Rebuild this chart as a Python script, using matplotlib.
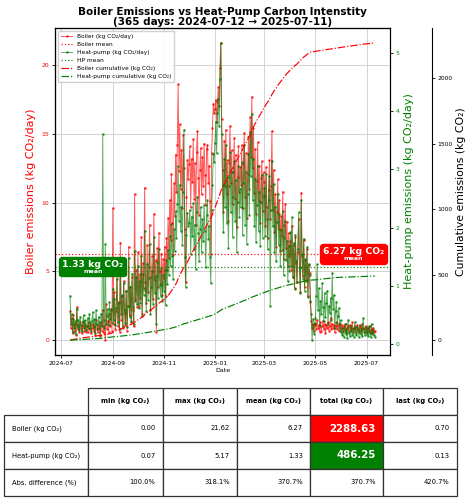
import numpy as np
import pandas as pd
import matplotlib
matplotlib.use('Agg')
import matplotlib.pyplot as plt
import matplotlib.dates as mdates
import matplotlib.transforms as mtransforms
from matplotlib.offsetbox import TextArea, VPacker, AnnotationBbox

start_date = '2024-07-12'
end_date = '2025-07-11'

# daily boiler emissions (kg CO2/day)
boiler = [
    # Jul 12-31
    2.1, 0.9, 1.6, 0.5, 1.8, 0.7, 1.2, 0.4, 2.4, 0.8, 1.1, 0.6, 1.3, 0.9, 0.5, 1.0, 1.4, 0.7, 1.2, 0.6,
    # Aug
    1.0, 0.6, 1.3, 0.8, 1.1, 0.5, 0.9, 1.2, 0.7, 1.0, 0.4, 1.5, 0.8, 0.6, 1.1, 0.9, 0.3, 1.3, 0.7, 2.2,
    0.5, 1.0, 0.0, 2.6, 0.8, 1.4, 0.6, 1.9, 1.0, 2.3, 0.7,
    # Sep
    9.6, 1.2, 3.5, 0.8, 2.1, 5.2, 1.0, 2.8, 0.6, 7.1, 1.5, 3.2, 0.9, 4.3, 2.0, 1.1, 3.6, 0.7, 2.5, 6.8,
    1.8, 3.9, 1.3, 4.6, 2.2, 1.0, 10.6, 3.0, 5.1, 2.4,
    # Oct
    6.4, 2.5, 4.8, 3.1, 7.5, 1.9, 5.6, 3.8, 11.1, 4.2, 2.7, 6.9, 3.5, 5.3, 8.4, 2.2, 4.6, 6.1, 3.0, 9.2,
    4.4, 5.8, 0.6, 6.7, 3.9, 7.8, 5.0, 4.1, 6.3, 3.3, 5.9,
    # Nov
    4.5, 6.8, 3.2, 7.4, 5.1, 8.9, 6.0, 10.2, 7.3, 12.1, 8.5, 6.2, 11.4, 9.0, 13.5, 10.8, 14.2, 18.6, 12.3, 15.7,
    11.0, 13.8, 9.6, 14.9, 12.5, 8.1, 4.2, 10.4, 13.1, 11.7,
    # Dec
    12.8, 14.1, 9.7, 13.2, 11.5, 14.6, 10.3, 12.9, 8.4, 13.7, 15.2, 11.8, 9.1, 12.4, 14.0, 10.6, 13.3, 11.2, 14.3, 12.0,
    9.8, 13.9, 14.2, 11.4, 12.7, 10.1, 6.3, 13.6, 15.4, 17.2, 16.5,
    # Jan
    16.8, 17.5, 15.9, 17.3, 18.4, 17.0, 19.8, 21.62, 16.1, 12.4, 9.3, 14.5, 11.2, 15.3, 10.6, 13.1, 8.7, 12.9, 15.6, 11.4,
    13.8, 9.9, 12.2, 14.7, 10.3, 13.5, 8.2, 11.9, 14.1, 10.8, 12.6,
    # Feb
    11.3, 14.2, 9.6, 12.8, 15.1, 10.4, 13.6, 8.9, 12.1, 14.8, 11.0, 16.2, 13.3, 17.7, 12.5, 15.4, 10.7, 13.9, 9.2, 11.6,
    14.4, 10.1, 12.7, 8.5, 11.8, 13.0, 9.4, 12.2,
    # Mar
    11.5, 8.3, 12.6, 9.7, 7.4, 10.9, 13.1, 8.8, 11.2, 15.2, 9.5, 12.4, 7.9, 10.6, 6.8, 9.3, 11.7, 8.1, 10.2, 6.5,
    9.0, 7.6, 10.8, 5.9, 8.4, 9.9, 6.7, 8.6, 5.4, 7.8, 6.1,
    # Apr
    7.2, 5.1, 8.3, 4.6, 6.9, 3.8, 7.5, 5.6, 4.2, 6.4, 8.8, 5.3, 3.5, 10.7, 6.1, 4.7, 7.3, 3.9, 5.8, 4.4,
    6.6, 3.2, 5.5, 4.9, 2.8, 1.4, 0.9, 1.2, 0.7, 1.1,
    # May
    1.2, 0.8, 1.5, 0.9, 1.1, 0.6, 1.3, 0.7, 1.0, 1.4, 0.8, 1.2, 0.5, 1.1, 0.9, 1.3, 0.7, 1.0, 1.6, 0.8,
    1.2, 0.9, 1.1, 0.6, 1.0, 1.3, 0.8, 1.1, 0.7, 1.2, 0.9,
    # Jun
    0.9, 1.1, 0.7, 1.0, 0.8, 1.2, 0.6, 0.9, 1.0, 0.7, 1.1, 0.8, 0.9, 1.3, 0.6, 0.8, 1.0, 0.7, 0.9, 1.1,
    0.8, 0.6, 1.0, 0.9, 0.7, 1.2, 0.8, 0.9, 0.6, 1.0,
    # Jul 1-11
    0.8, 0.6, 0.9, 0.7, 1.0, 0.6, 0.8, 0.5, 0.9, 0.6, 0.70,
]

# daily heat-pump emissions (kg CO2/day)
heatpump = [
    # Jul 12-31
    0.83, 0.35, 0.52, 0.21, 0.44, 0.28, 0.39, 0.18, 0.61, 0.30, 0.42, 0.25, 0.47, 0.33, 0.22, 0.38, 0.50, 0.27, 0.41, 0.24,
    # Aug
    0.32, 0.45, 0.27, 0.51, 0.36, 0.22, 0.40, 0.55, 0.30, 0.43, 0.19, 0.58, 0.34, 0.26, 0.47, 0.38, 0.15, 0.52, 0.31, 3.60,
    0.42, 0.28, 1.72, 0.35, 0.49, 0.61, 0.33, 0.72, 0.44, 0.58, 0.37,
    # Sep
    0.95, 0.41, 0.78, 0.33, 0.62, 1.12, 0.38, 0.70, 0.26, 1.35, 0.52, 0.84, 0.31, 1.05, 0.58, 0.36, 0.92, 0.29, 0.66, 1.48,
    0.47, 0.99, 0.40, 1.21, 0.63, 0.35, 1.60, 0.74, 1.15, 0.69,
    # Oct
    1.35, 0.62, 1.08, 0.71, 1.52, 0.48, 1.21, 0.85, 1.95, 0.93, 0.57, 1.38, 0.76, 1.14, 1.72, 0.52, 0.98, 1.26, 0.69, 1.84,
    0.88, 1.17, 0.35, 1.41, 0.79, 1.63, 1.02, 0.83, 1.31, 0.74, 1.19,
    # Nov
    0.92, 1.28, 0.67, 1.45, 1.03, 1.62, 1.18, 1.85, 1.34, 2.06, 1.51, 1.12, 1.97, 1.60, 2.28, 1.83, 2.41, 3.05, 2.12, 2.74,
    1.95, 2.36, 1.71, 2.62, 3.68, 1.49, 0.98, 1.87, 2.25, 2.03,
    # Dec
    2.08, 2.31, 1.54, 2.19, 1.86, 2.42, 1.63, 2.05, 1.29, 2.27, 2.53, 1.91, 1.42, 1.98, 2.36, 1.58, 2.14, 1.77, 2.39, 1.95,
    1.33, 2.22, 2.47, 1.81, 2.03, 1.49, 1.05, 2.31, 2.74, 3.26, 3.12,
    # Jan
    3.45, 3.82, 3.28, 3.96, 4.21, 3.74, 4.55, 5.17, 3.61, 2.74, 1.92, 3.18, 2.35, 3.42, 2.08, 2.87, 1.65, 2.71, 3.29, 2.26,
    2.95, 1.84, 2.53, 3.14, 2.12, 2.82, 1.58, 2.44, 3.05, 2.19, 2.67,
    # Feb
    2.35, 3.12, 1.88, 2.76, 3.41, 2.04, 2.95, 1.72, 2.58, 3.27, 2.21, 3.64, 2.89, 3.95, 2.47, 3.18, 2.02, 2.83, 1.76, 2.39,
    3.06, 1.95, 2.62, 1.68, 2.44, 2.91, 1.83, 2.55,
    # Mar
    2.68, 1.85, 2.92, 2.14, 1.63, 2.47, 2.88, 0.66, 2.31, 3.15, 2.02, 2.75, 1.58, 2.36, 1.42, 2.09, 2.58, 1.71, 2.24, 1.35,
    1.96, 1.62, 2.28, 1.19, 1.83, 2.12, 1.44, 1.77, 1.08, 1.69, 1.26,
    # Apr
    1.92, 1.35, 2.18, 1.16, 1.74, 0.95, 1.88, 1.42, 1.07, 1.63, 2.26, 1.31, 0.88, 2.47, 1.55, 1.12, 1.81, 0.92, 1.46, 1.09,
    1.67, 0.81, 1.38, 1.19, 0.74, 0.52, 0.07, 0.43, 0.18, 0.36,
    # May
    0.45, 0.82, 1.37, 0.58, 0.96, 0.31, 0.74, 0.52, 1.05, 0.63, 0.39, 0.88, 0.47, 0.71, 0.92, 0.35, 0.66, 0.54, 0.79, 0.42,
    1.22, 0.61, 0.84, 0.28, 0.57, 0.73, 0.36, 0.49, 0.62, 0.25, 0.41,
    # Jun
    0.21, 0.15, 0.28, 0.12, 0.34, 0.18, 0.25, 0.11, 0.42, 0.19, 0.14, 0.31, 0.22, 0.16, 0.27, 0.13, 0.38, 0.20, 0.15, 0.29,
    0.24, 0.12, 0.33, 0.17, 0.26, 0.14, 0.45, 0.21, 0.16, 0.30,
    # Jul 1-11
    0.18, 0.26, 0.14, 0.31, 0.20, 0.12, 0.35, 0.17, 0.24, 0.15, 0.13,
]

boiler_mean = 6.27
hp_mean = 1.33

table_cols = ['', 'min (kg CO₂)', 'max (kg CO₂)', 'mean (kg CO₂)', 'total (kg CO₂)', 'last (kg CO₂)']
table_rows = ['Boiler (kg CO₂)', 'Heat-pump (kg CO₂)', 'Abs. difference (%)']
boiler_stats = ['0.00', '21.62', '6.27', '2288.63', '0.70']
hp_stats = ['0.07', '5.17', '1.33', '486.25', '0.13']
diff_stats = ['100.0%', '318.1%', '370.7%', '370.7%', '420.7%']

RED = '#ff0000'
GREEN = '#008000'

dates = pd.date_range(start_date, end_date, freq='D')
boiler_arr = np.array(boiler)
hp_arr = np.array(heatpump)

fig = plt.figure(figsize=(4.65, 5.0), dpi=100)
ax = fig.add_axes([0.118, 0.29, 0.721, 0.654])
ax2 = ax.twinx()
ax3 = ax.twinx()
ax3.spines['right'].set_position(('axes', 1.125))

l1, = ax.plot(dates, boiler_arr, color=RED, lw=0.7, marker='.', ms=1.8, alpha=0.65,
              label='Boiler (kg CO₂/day)')
l2 = ax.axhline(boiler_mean, color=RED, ls=':', lw=0.9, alpha=0.9, label='Boiler mean')
l3, = ax2.plot(dates, hp_arr, color=GREEN, lw=0.7, marker='.', ms=1.8, alpha=0.65,
               label='Heat-pump (kg CO₂/day)')
l4 = ax2.axhline(hp_mean, color=GREEN, ls=':', lw=0.9, alpha=0.9, label='HP mean')
l5, = ax3.plot(dates, np.cumsum(boiler_arr), color=RED, ls='-.', lw=0.85,
               label='Boiler cumulative (kg CO₂)')
l6, = ax3.plot(dates, np.cumsum(hp_arr), color=GREEN, ls='-.', lw=0.85,
               label='Heat-pump cumulative (kg CO₂)')

ax.grid(True, color='#cccccc', lw=0.6)
ax.set_axisbelow(True)

ax.xaxis.set_major_locator(mdates.MonthLocator(bymonth=[1, 3, 5, 7, 9, 11]))
ax.xaxis.set_major_formatter(mdates.DateFormatter('%Y-%m'))

for a in (ax, ax2, ax3):
    a.tick_params(labelsize=4.3, length=2, width=0.6, pad=2)
ax.tick_params(axis='y', labelcolor=RED)
ax2.tick_params(axis='y', labelcolor=GREEN)

ax.set_xlabel('Date', fontsize=4.5, labelpad=2)
ax.set_ylabel('Boiler emissions (kg CO₂/day)', color=RED, fontsize=8, labelpad=4)
ax2.set_ylabel('Heat-pump emissions (kg CO₂/day)', color=GREEN, fontsize=8, labelpad=3)
ax3.set_ylabel('Cumulative emissions (kg CO₂)', color='black', fontsize=7.8, labelpad=2)

ax.set_title('Boiler Emissions vs Heat-Pump Carbon Intenstity\n(365 days: 2024-07-12 → 2025-07-11)',
             fontsize=7.5, fontweight='bold', pad=2, linespacing=1.0)

ax3.legend(handles=[l1, l2, l3, l4, l5, l6], loc='upper left', fontsize=4.2,
           handlelength=2.0, labelspacing=0.5, borderpad=0.5, framealpha=0.9)


def mean_box(axis, value, xfrac, color):
    t1 = TextArea(f'{value:.2f} kg CO₂',
                  textprops=dict(color='white', fontsize=6.7, fontweight='bold'))
    t2 = TextArea('mean', textprops=dict(color='white', fontsize=4.5, fontweight='bold'))
    pack = VPacker(children=[t1, t2], align='center', pad=0, sep=0)
    trans = mtransforms.blended_transform_factory(ax.transAxes, axis.transData)
    ab = AnnotationBbox(pack, (xfrac, value), xycoords=trans, frameon=True,
                        box_alignment=(0.5, 0.5), pad=0.25,
                        bboxprops=dict(boxstyle='round,pad=0.2', fc=color, ec=color))
    ax3.add_artist(ab)


mean_box(ax2, hp_mean, 0.113, GREEN)
mean_box(ax, boiler_mean, 0.89, RED)

# table
ax_t = fig.add_axes([0, 0, 1, 1])
ax_t.axis('off')
cell_text = [[table_rows[0]] + boiler_stats,
             [table_rows[1]] + hp_stats,
             [table_rows[2]] + diff_stats]
widths = np.array([84, 75, 74, 73, 73, 74], dtype=float)
widths = widths / widths.sum()
tbl = ax_t.table(cellText=cell_text, colLabels=table_cols, colWidths=list(widths),
                 bbox=[4 / 465, 1 - 496 / 500, 453 / 465, 108 / 500], cellLoc='right')
tbl.auto_set_font_size(False)
for (r, c), cell in tbl.get_celld().items():
    cell.set_linewidth(0.9)
    cell.set_edgecolor('#333333')
    txt = cell.get_text()
    txt.set_fontsize(4.9)
    if r == 0:
        txt.set_fontweight('bold')
        cell.set_text_props(ha='center')
        cell._loc = 'center'
        if c == 0:
            cell.visible_edges = ''
    elif c == 0:
        cell._loc = 'left'
        txt.set_ha('left')
    if r in (1, 2) and c == 4:
        cell.set_facecolor(RED if r == 1 else GREEN)
        txt.set_color('white')
        txt.set_fontweight('bold')
        txt.set_fontsize(7.4)

fig.savefig('out.png', dpi=100)
